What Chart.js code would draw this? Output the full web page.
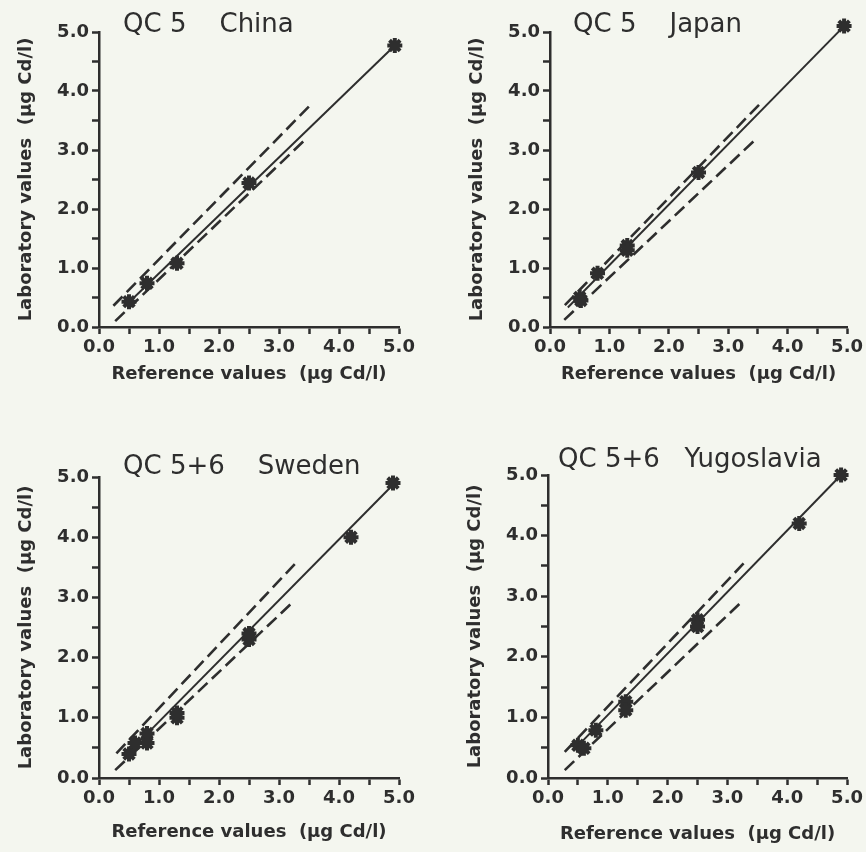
<!DOCTYPE html>
<html>
<head>
<meta charset="utf-8">
<title>QC 5 / QC 5+6 cadmium</title>
<script src="https://cdn.jsdelivr.net/npm/chart.js@4.4.0/dist/chart.umd.min.js"></script>
<style>
  html, body { margin: 0; padding: 0; background: #f4f6ef; }
  #wrap { position: relative; width: 866px; height: 852px; }
  .panel { position: absolute; }
</style>
</head>
<body>
<div id="wrap">
  <div class="panel" style="left:0;top:0"><canvas id="c1" width="433" height="420"></canvas></div>
  <div class="panel" style="left:433px;top:0"><canvas id="c2" width="433" height="420"></canvas></div>
  <div class="panel" style="left:0;top:420px"><canvas id="c3" width="433" height="432"></canvas></div>
  <div class="panel" style="left:433px;top:420px"><canvas id="c4" width="433" height="432"></canvas></div>
</div>
<script>
// tick labels shown on both axes
var tickLabels = ['0.0', '1.0', '2.0', '3.0', '4.0', '5.0'];

// China, QC 5
var chinaRef = [0.5, 0.8, 1.3, 2.5, 4.93];
var chinaLab = [0.43, 0.74, 1.08, 2.44, 4.77];
var chinaFit = [[0.45, 0.37], [4.93, 4.77]];
var chinaUpper = [[0.24, 0.36], [3.56, 3.8]];
var chinaLower = [[0.27, 0.1], [3.43, 3.17]];

// Japan, QC 5
var japanRef = [0.5, 0.52, 0.8, 1.3, 1.3, 2.5, 4.95];
var japanLab = [0.5, 0.45, 0.91, 1.38, 1.3, 2.62, 5.1];
var japanFit = [[0.3, 0.33], [4.95, 5.1]];
var japanUpper = [[0.25, 0.37], [3.57, 3.82]];
var japanLower = [[0.24, 0.12], [3.45, 3.17]];

// Sweden, QC 5+6
var swedenRef = [0.5, 0.6, 0.8, 0.8, 1.3, 1.3, 2.5, 2.5, 4.2, 4.9];
var swedenLab = [0.4, 0.58, 0.74, 0.58, 1.0, 1.08, 2.3, 2.4, 4.0, 4.9];
var swedenFit = [[0.45, 0.38], [4.9, 4.87]];
var swedenUpper = [[0.29, 0.41], [3.27, 3.56]];
var swedenLower = [[0.27, 0.13], [3.24, 2.93]];

// Yugoslavia, QC 5+6
var yugoRef = [0.5, 0.6, 0.8, 1.3, 1.3, 2.5, 2.5, 4.2, 4.9];
var yugoLab = [0.54, 0.49, 0.79, 1.26, 1.12, 2.61, 2.5, 4.2, 5.0];
var yugoFit = [[0.45, 0.48], [4.9, 5.0]];
var yugoUpper = [[0.28, 0.43], [3.27, 3.54]];
var yugoLower = [[0.28, 0.13], [3.24, 2.91]];

var ink = '#2e2e2e';
var font = '"DejaVu Sans", Verdana, sans-serif';

function pts(xs, ys) {
    return xs.map(function (x, i) { return { x: x, y: ys[i] }; });
}
function seg(pairs) {
    return pairs.map(function (p) { return { x: p[0], y: p[1] }; });
}

// panel heading, drawn over the top of the plot
var headingPlugin = {
    id: 'heading',
    afterDraw: function (chart) {
        var o = chart.options.plugins.heading;
        var ctx = chart.ctx;
        ctx.save();
        ctx.font = '26px ' + font;
        ctx.fillStyle = ink;
        ctx.textBaseline = 'middle';
        ctx.textAlign = 'left';
        ctx.fillText(o.text, chart.chartArea.left + o.dx, chart.chartArea.top + o.dy);
        ctx.restore();
    }
};

function axis(title, fitSize, isX) {
    return {
        type: 'linear',
        min: 0,
        max: 5,
        border: { display: true, color: ink, width: 2.5 },
        grid: {
            drawOnChartArea: false,
            drawTicks: true,
            tickLength: 7,
            tickWidth: 2.5,
            tickColor: ink
        },
        ticks: {
            stepSize: 0.5,
            autoSkip: false,
            maxRotation: 0,
            padding: 3,
            color: ink,
            font: { family: font, size: 18, weight: 'bold' },
            callback: function (v) {
                var k = Math.round(v * 2);
                return k % 2 === 0 ? tickLabels[k / 2] : '';
            }
        },
        title: {
            display: true,
            text: title,
            color: ink,
            font: { family: font, size: 18, weight: 'bold' }
        },
        afterFit: function (scale) {
            if (isX) { scale.height = fitSize; } else { scale.width = fitSize; }
        }
    };
}

function makePanel(id, heading, ref, lab, fit, upper, lower, lay) {
    new Chart(document.getElementById(id), {
        type: 'scatter',
        data: {
            datasets: [
                {
                    data: pts(ref, lab),
                    pointStyle: 'star',
                    pointRadius: 7.5,
                    pointBorderWidth: 4,
                    borderColor: ink,
                    backgroundColor: ink,
                    clip: false
                },
                {
                    data: seg(fit),
                    showLine: true,
                    pointRadius: 0,
                    borderColor: ink,
                    borderWidth: 2,
                    clip: false
                },
                {
                    data: seg(upper),
                    showLine: true,
                    pointRadius: 0,
                    borderColor: ink,
                    borderWidth: 2.6,
                    borderDash: [13, 6]
                },
                {
                    data: seg(lower),
                    showLine: true,
                    pointRadius: 0,
                    borderColor: ink,
                    borderWidth: 2.6,
                    borderDash: [13, 6]
                }
            ]
        },
        options: {
            responsive: false,
            animation: false,
            layout: { padding: { left: lay.pl, top: lay.pt, right: lay.pr, bottom: lay.pb } },
            plugins: {
                legend: { display: false },
                tooltip: { enabled: false },
                heading: { text: heading, dx: lay.hx, dy: lay.hy }
            },
            scales: {
                x: axis('Reference values  (\u00b5g Cd/l)', lay.xh, true),
                y: axis('Laboratory values  (\u00b5g Cd/l)', 87, false)
            }
        },
        plugins: [headingPlugin]
    });
}

makePanel('c1', 'QC 5    China', chinaRef, chinaLab, chinaFit, chinaUpper, chinaLower,
    { pl: 12, pt: 32, pr: 34, pb: 31, xh: 62, hx: 24, hy: -7 });
makePanel('c2', 'QC 5    Japan', japanRef, japanLab, japanFit, japanUpper, japanLower,
    { pl: 30, pt: 32, pr: 18, pb: 31, xh: 62, hx: 23, hy: -7 });
makePanel('c3', 'QC 5+6    Sweden', swedenRef, swedenLab, swedenFit, swedenUpper, swedenLower,
    { pl: 12, pt: 57, pr: 34, pb: 5, xh: 69, hx: 24, hy: -10 });
makePanel('c4', 'QC 5+6   Yugoslavia', yugoRef, yugoLab, yugoFit, yugoUpper, yugoLower,
    { pl: 28, pt: 55, pr: 17, pb: 3, xh: 71, hx: 10, hy: -15 });
</script>
</body>
</html>
